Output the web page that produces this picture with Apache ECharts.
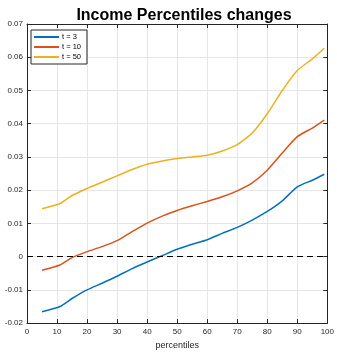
<!DOCTYPE html>
<html>
<head>
<meta charset="utf-8">
<script src="https://cdn.jsdelivr.net/npm/echarts@6/dist/echarts.min.js"></script>
<style>
  html, body { margin: 0; padding: 0; background: #fff; }
  #chart { width: 337px; height: 355px; }
</style>
</head>
<body>
<div id="chart"></div>
<script>
// Percentile positions and the change at each percentile for three horizons
const percentiles = [5, 11, 15, 20, 25, 30, 35, 40, 45, 50, 55, 60, 65, 70, 75, 80, 85, 90, 95, 99];
const t3  = [-0.0166, -0.0150, -0.0126, -0.0100, -0.0080, -0.0059, -0.0036, -0.0016, 0.0003, 0.0022,
             0.0037, 0.0051, 0.0070, 0.0088, 0.0110, 0.0136, 0.0168, 0.0210, 0.0230, 0.0248];
const t10 = [-0.0041, -0.0025, -0.0003, 0.0015, 0.0030, 0.0048, 0.0075, 0.0101, 0.0122, 0.0139,
             0.0153, 0.0166, 0.0180, 0.0198, 0.0222, 0.0260, 0.0312, 0.0361, 0.0387, 0.0411];
const t50 = [0.0144, 0.0160, 0.0184, 0.0205, 0.0224, 0.0243, 0.0262, 0.0278, 0.0288, 0.0295,
             0.0300, 0.0305, 0.0318, 0.0337, 0.0372, 0.0430, 0.0500, 0.0560, 0.0595, 0.0627];
const seriesNames = ['t = 3', 't = 10', 't = 50'];
const seriesColors = ['#0072BD', '#D95319', '#EDB120'];

const font = 'Liberation Sans, Arial, Helvetica, sans-serif';
const axisColor = '#262626';

function pairs(ys) { return percentiles.map((x, i) => [x, ys[i]]); }

const chart = echarts.init(document.getElementById('chart'));

const baseX = {
  type: 'value', min: 0, max: 100, interval: 10,
  axisLine: { show: true, onZero: false, lineStyle: { color: axisColor, width: 1 } },
  axisTick: { show: true, inside: true, length: 4, lineStyle: { color: axisColor } },
  splitLine: { show: false }
};
const baseY = {
  type: 'value', min: -0.02, max: 0.07, interval: 0.01,
  axisLine: { show: true, onZero: false, lineStyle: { color: axisColor, width: 1 } },
  axisTick: { show: true, inside: true, length: 4, lineStyle: { color: axisColor } },
  splitLine: { show: false }
};

chart.setOption({
  animation: false,
  backgroundColor: '#fff',
  title: {
    text: 'Income Percentiles changes',
    left: 179, top: 3, textAlign: 'center',
    textStyle: { fontFamily: font, fontSize: 16, fontWeight: 'bold', color: '#000' }
  },
  legend: {
    data: seriesNames.map((n, i) => ({ name: n, itemStyle: { color: seriesColors[i] } })),
    orient: 'vertical',
    left: 31, top: 30,
    itemWidth: 25, itemHeight: 2, itemGap: 2,
    padding: [3, 6, 3, 3],
    backgroundColor: '#fff',
    borderColor: axisColor, borderWidth: 1, borderRadius: 0,
    icon: 'rect',
    textStyle: { fontFamily: font, fontSize: 7.5, color: '#000', padding: [0, 0, 0, -2] }
  },
  grid: { left: 27, right: 6, top: 24, bottom: 22, containLabel: false },
  xAxis: [
    Object.assign({}, baseX, {
      position: 'bottom',
      name: 'percentiles', nameLocation: 'middle', nameGap: 14,
      nameTextStyle: { fontFamily: font, fontSize: 9, color: '#262626' },
      axisLabel: { fontFamily: font, fontSize: 8, color: '#262626', margin: 5 },
      splitLine: { show: true, lineStyle: { color: '#e6e6e6', width: 1 } }
    }),
    Object.assign({}, baseX, { position: 'top', axisLabel: { show: false } })
  ],
  yAxis: [
    Object.assign({}, baseY, {
      position: 'left',
      axisLabel: {
        fontFamily: font, fontSize: 8, color: '#262626', margin: 4,
        formatter: v => Math.abs(v) < 1e-9 ? '0' : v.toFixed(2)
      },
      splitLine: { show: true, lineStyle: { color: '#e6e6e6', width: 1 } }
    }),
    Object.assign({}, baseY, { position: 'right', axisLabel: { show: false } })
  ],
  series: [t3, t10, t50].map((ys, i) => ({
    name: seriesNames[i],
    type: 'line',
    data: pairs(ys),
    xAxisIndex: 0, yAxisIndex: 0,
    symbol: 'none',
    smooth: 0.2,
    color: seriesColors[i],
    lineStyle: { color: seriesColors[i], width: 1.5 },
    z: 3
  })).concat([{
    name: 'zero',
    type: 'line',
    data: [],
    xAxisIndex: 0, yAxisIndex: 0,
    markLine: {
      silent: true, symbol: 'none', label: { show: false },
      lineStyle: { color: '#000', type: [6, 4], width: 1 },
      data: [{ yAxis: 0 }]
    },
    z: 2
  }])
});
</script>
</body>
</html>
